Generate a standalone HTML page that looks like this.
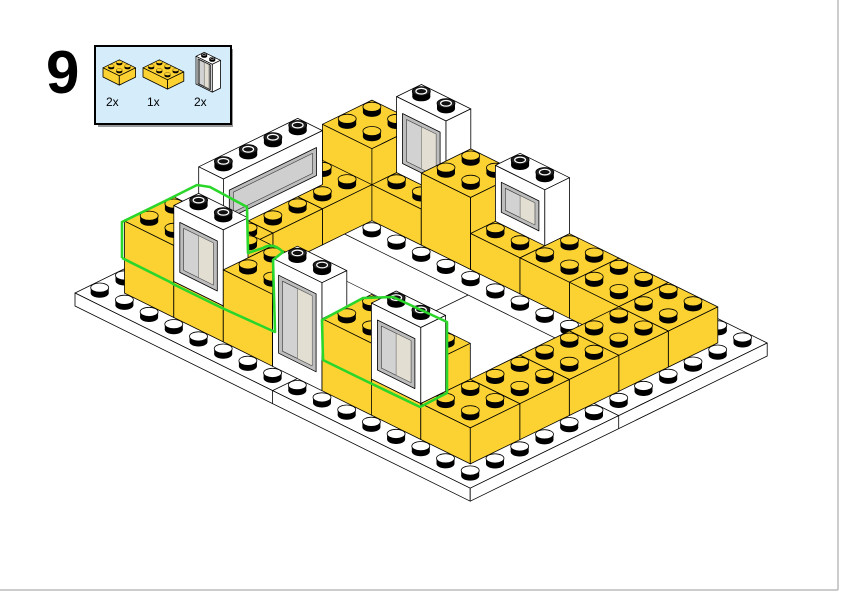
<!DOCTYPE html>
<html><head><meta charset="utf-8">
<style>
html,body{margin:0;padding:0;background:#fff;}
#wrap{position:relative;width:842px;height:596px;overflow:hidden;background:#fff;}
.num{position:absolute;left:46px;top:38px;font:bold 60px "Liberation Sans",sans-serif;color:#000;}
svg{position:absolute;left:0;top:0;}
</style></head>
<body><div id="wrap">
<div class="num">9</div>
<svg id="s" width="842" height="596" viewBox="0 0 842 596" xmlns="http://www.w3.org/2000/svg"></svg>
</div>
<script>
var out=[];
function f(n){return n.toFixed(1);}
function mk(ox,oy,k){return {ox:ox,oy:oy,k:k};}
var S=mk(75,293,1);
function P(u,v,h,s){s=s||S;return [s.ox+s.k*(24.7*u+24.75*v), s.oy+s.k*(12.2*u-12.1*v-h)];}
function poly(pts,fill,stroke,sw){out.push('<polygon points="'+pts.map(function(p){return f(p[0])+','+f(p[1]);}).join(' ')+'" fill="'+fill+'" stroke="'+(stroke||'#000')+'" stroke-width="'+(sw||0.8)+'" stroke-linejoin="round"/>');}
function line(a,b,w){out.push('<line x1="'+f(a[0])+'" y1="'+f(a[1])+'" x2="'+f(b[0])+'" y2="'+f(b[1])+'" stroke="#000" stroke-width="'+(w||0.8)+'"/>');}
function stud(u,v,h,top,s,dark){s=s||S;var c=P(u,v,h,s),k=s.k,rx=9*k,ry=4.6*k,sh=5.5*k;
 out.push('<ellipse cx="'+f(c[0])+'" cy="'+f(c[1])+'" rx="'+f(rx)+'" ry="'+f(ry)+'" fill="#000"/>');
 out.push('<rect x="'+f(c[0]-rx)+'" y="'+f(c[1]-sh)+'" width="'+f(2*rx)+'" height="'+f(sh)+'" fill="#000"/>');
 out.push('<ellipse cx="'+f(c[0])+'" cy="'+f(c[1]-sh)+'" rx="'+f(rx)+'" ry="'+f(ry)+'" fill="'+top+'" stroke="#000" stroke-width="'+(0.8*k)+'"/>');
 if(dark){out.push('<ellipse cx="'+f(c[0])+'" cy="'+f(c[1]-sh)+'" rx="'+f(rx*0.6)+'" ry="'+f(ry*0.6)+'" fill="#111" stroke="#fff" stroke-width="'+(1.2*k)+'"/>');}
}
var Y='#FCD232';
function box(u0,u1,v0,v1,h0,h1,fill,s){
 poly([P(u0,v0,h1,s),P(u1,v0,h1,s),P(u1,v1,h1,s),P(u0,v1,h1,s)],fill);
 poly([P(u0,v0,h0,s),P(u1,v0,h0,s),P(u1,v0,h1,s),P(u0,v0,h1,s)],fill);
 poly([P(u1,v0,h0,s),P(u1,v1,h0,s),P(u1,v1,h1,s),P(u1,v0,h1,s)],fill);
}
function ybrick(u0,u1,v0,v1,h0,h1,s){box(u0,u1,v0,v1,h0,h1,Y,s);
 for(var u=u0;u<u1;u++)for(var v=v1-1;v>=v0;v--)stud(u+0.5,v+0.5,h1,Y,s);}
function quadL(u0,u1,v,h0,h1,t0,t1,a,b,s){return [P(u0+t0*(u1-u0),v,h0+a,s),P(u0+t1*(u1-u0),v,h0+a,s),P(u0+t1*(u1-u0),v,h1-b,s),P(u0+t0*(u1-u0),v,h1-b,s)];}
function quadR(u,v0,v1,h0,h1,t0,t1,a,b,s){return [P(u,v0+t0*(v1-v0),h0+a,s),P(u,v0+t1*(v1-v0),h0+a,s),P(u,v0+t1*(v1-v0),h1-b,s),P(u,v0+t0*(v1-v0),h1-b,s)];}
function win(u0,u1,v0,v1,h0,h1,s,door){
 box(u0,u1,v0,v1,h0,h1,'#fff',s);
 var k=(s||S).k;
 if(u1-u0>=v1-v0){
  poly(quadL(u0,u1,v0,h0,h1,0.12,0.88,(door?16:12)*k,14*k,s),'#BDBDBD','#000',0.8);
  poly(quadL(u0,u1,v0,h0,h1,0.2,0.8,(door?20:16)*k,18*k,s),'#D2D2D2','#333',0.6);
  poly(quadL(u0,u1,v0,h0,h1,0.5,0.8,(door?20:16)*k,18*k,s),'#E2DFD2','#555',0.5);
  for(var u=u0;u<u1;u++)stud(u+0.5,v0+0.5,h1,'#222',s,true);
 } else {
  poly(quadR(u1,v0,v1,h0,h1,0.06,0.94,12*k,14*k,s),'#BDBDBD','#000',0.8);
  poly(quadR(u1,v0,v1,h0,h1,0.1,0.9,16*k,18*k,s),'#CFCFCF','#333',0.6);
  for(var v=v1-1;v>=v0;v--)stud(u0+0.5,v+0.5,h1,'#222',s,true);
 }
}
/* parts box */
out.push('<rect x="98" y="49" width="135" height="78" fill="#999"/>');
out.push('<rect x="95" y="46" width="136" height="78" fill="#D5ECFB" stroke="#000" stroke-width="2"/>');
var m1=mk(103,77,0.33); ybrick(0,2,0,2,0,28,m1);
var m2=mk(143,77,0.33); ybrick(0,3,0,2,0,28,m2);
var m3=mk(196,84,0.33); win(0,2,0,1,0,84,m3);
out.push('<text x="106" y="106" font-family="Liberation Sans,sans-serif" font-size="12">2x</text>');
out.push('<text x="147" y="106" font-family="Liberation Sans,sans-serif" font-size="12">1x</text>');
out.push('<text x="194" y="106" font-family="Liberation Sans,sans-serif" font-size="12">2x</text>');
/* page border */
out.push('<line x1="838" y1="0" x2="838" y2="590" stroke="#bbb" stroke-width="1.5"/>');
out.push('<line x1="0" y1="590" x2="838" y2="590" stroke="#bbb" stroke-width="1.5"/>');
/* baseplate */
poly([P(0,0,0),P(16,0,0),P(16,12,0),P(0,12,0)],'#fff');
poly([P(0,0,0),P(16,0,0),P(16,0,-13),P(0,0,-13)],'#fff');
poly([P(16,0,0),P(16,12,0),P(16,12,-13),P(16,0,-13)],'#fff');
line(P(8,0,0),P(8,0,-13)); line(P(16,6,0),P(16,6,-13));
line(P(8,0,0),P(8,3,0)); line(P(16,6,0),P(13,6,0));
line(P(3,7.9,0),P(13,7.9,0),0.7); line(P(8,3,0),P(8,7.9,0),0.7); line(P(3,6,0),P(8,6,0),0.6);
for(var u=0;u<16;u++)for(var v=11;v>=0;v--){
 var inside=(u>=3&&u<13&&v>=3&&v<9); var wall=(u>=1&&u<15&&v>=1&&v<11)&&!inside;
 if(!wall && !(inside && v!=8))stud(u+0.5,v+0.5,0,'#fff');
}
/* walls */
ybrick(1,3,9,11,0,72);
ybrick(1,3,7,9,0,36);ybrick(1,3,5,7,0,36);ybrick(1,3,3,5,0,36);
win(1,2,4,8,36,90);
ybrick(3,5,9,11,0,36); win(3,5,10,11,36,112);
ybrick(5,7,9,11,0,72);
ybrick(7,9,9,11,0,36); win(7,9,10,11,36,92);
ybrick(9,11,9,11,0,36); ybrick(11,13,9,11,0,36);
ybrick(13,15,9,11,0,36);ybrick(13,15,7,9,0,36);ybrick(13,15,5,7,0,36);ybrick(13,15,3,5,0,36);
ybrick(1,3,1,3,0,72);
ybrick(3,5,1,3,0,36); ybrick(3,5,2,3,36,72); win(3,5,1,2,36,112);
ybrick(5,7,1,3,0,72);
ybrick(7,9,2,3,0,36); win(7,9,1,2,0,108,null,true);
ybrick(9,11,1,3,0,72);
ybrick(11,13,1,3,0,36); ybrick(11,13,2,3,36,72); win(11,13,1,2,36,112);
ybrick(13,15,1,3,0,36);
/* green highlights */
var g='fill="none" stroke="#2BD62B" stroke-width="2.6" stroke-linejoin="round"';
out.push('<path d="M122,258 L122,222 L163,202 L197,185 L210,187 L247,207 L248,253 L263,248 Q273,242 283,252 L273,260 L275,332 L222,308 L175,285 L170,282 L122,258" '+g+'/>');
out.push('<path d="M322,320 L363,298 L393,297 L447,322 L447,393 L420,407 L368,382 L323,360 Z" '+g+'/>');
document.getElementById('s').innerHTML=out.join('');
</script>
</body></html>
